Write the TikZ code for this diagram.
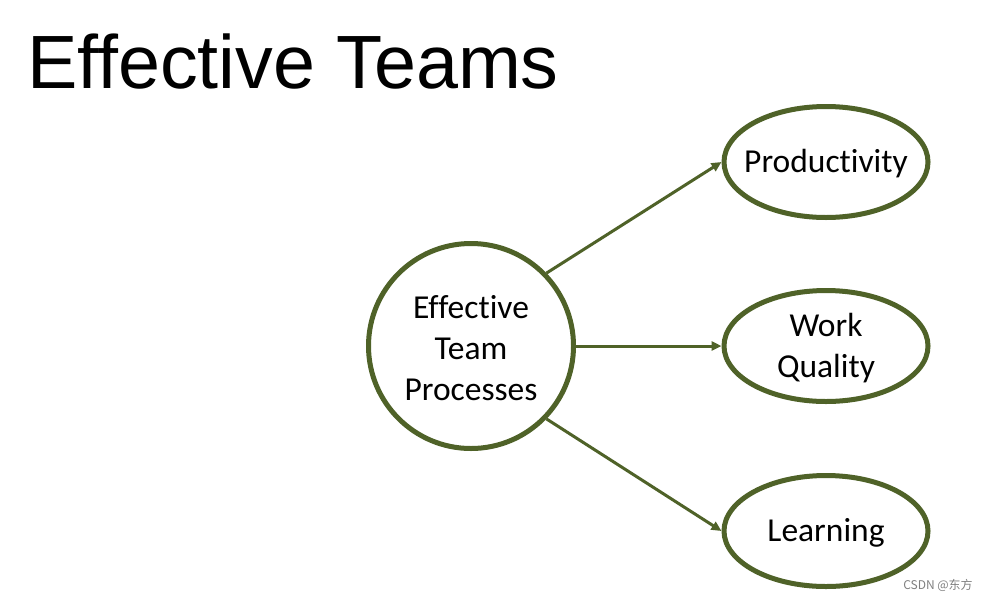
\documentclass[tikz,border=0pt]{standalone}
\usepackage{fontspec}
\setmainfont{Carlito}[Ligatures=NoCommon]
\newfontfamily\titlefont{Liberation Sans}[Ligatures=NoCommon]
\newfontfamily\cjkfont{Noto Sans CJK SC}
\usetikzlibrary{shapes.geometric,arrows.meta}
\definecolor{olive}{RGB}{79,98,40}
\begin{document}
\begin{tikzpicture}[x=1pt,y=1pt,
  lbl/.style={inner sep=0pt,align=center,font=\fontsize{33.5}{41}\selectfont},
  hub/.style={circle,draw=olive,line width=5pt,fill=white,minimum size=205pt,inner sep=0pt},
  outcome/.style={ellipse,draw=olive,line width=5pt,fill=white,minimum width=204pt,minimum height=111pt,inner sep=0pt},
  link/.style={draw=olive,line width=3pt,-{Triangle[length=10pt,width=9pt]}}]
\useasboundingbox (0,0) rectangle (987,-600);
\fill[white] (0,0) rectangle (987,-600);
\node[anchor=base west,inner sep=0pt,font=\titlefont\fontsize{75.5}{80}\selectfont] (title) at (27,-88) {Effective Teams};
\node[hub] (c) at (471,-346) {};
\node[outcome] (p) at (826,-162) {};
\node[outcome] (w) at (826,-346) {};
\node[outcome] (l) at (826,-531) {};
\node[lbl] (ct) at ([yshift=-2pt]c.center) {Effective\\Team\\Processes};
\node[lbl] (pt) at ([yshift=-2pt]p.center) {Productivity};
\node[lbl] (wt) at ([yshift=-2pt]w.center) {Work\\Quality};
\node[lbl] (lt) at ([yshift=-2pt]l.center) {Learning};
\draw[link] (c.44) -- (p.west);
\draw[link] (c.east) -- (w.west);
\draw[link] (c.-44) -- (l.west);
\node[anchor=center,inner sep=0pt,text=gray,font=\cjkfont\fontsize{12}{13}\selectfont] (wm) at (938,-585) {CSDN @东方};
\end{tikzpicture}
\end{document}
